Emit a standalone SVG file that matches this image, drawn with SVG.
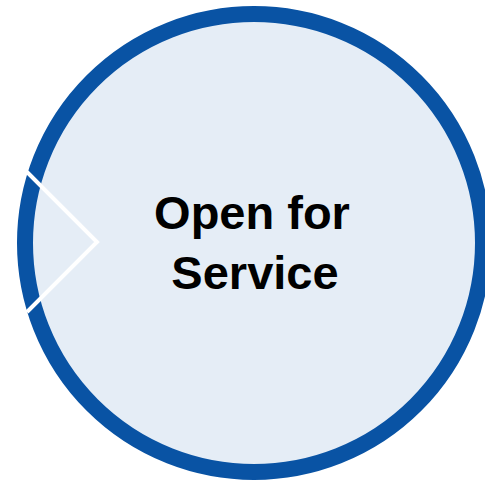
<svg xmlns="http://www.w3.org/2000/svg" width="485" height="480" viewBox="0 0 485 480">
<style>
.ring{fill:#E5EDF6;stroke:#0953A4;stroke-width:16}
.chev{fill:none;stroke:#FFFFFF;stroke-width:4;stroke-linejoin:miter}
.lbl{font-family:"Liberation Sans",Arial,sans-serif;font-weight:bold;font-size:47px;fill:#000000;text-anchor:middle}
</style>
<rect width="485" height="480" fill="#FFFFFF"/>
<g id="node-open-for-service">
<circle class="ring" cx="254" cy="243" r="229"/>
<text class="lbl" x="252" y="229">Open for</text>
<text class="lbl" x="255" y="289">Service</text>
</g>
<g id="connectors">
<polyline class="chev" points="27,172 97,242 27,312"/>
</g>
</svg>
